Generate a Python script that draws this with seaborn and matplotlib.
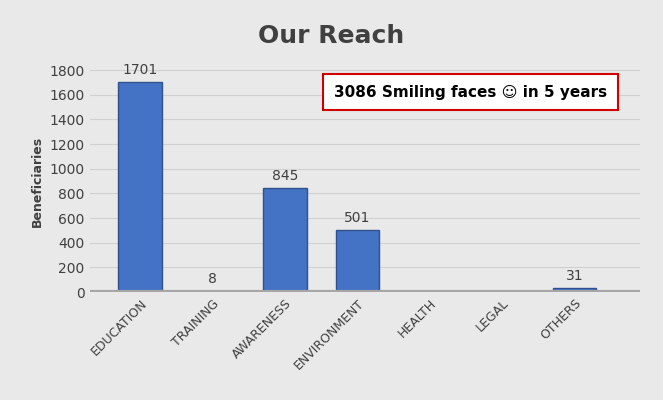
import matplotlib
matplotlib.use("Agg")
import matplotlib.pyplot as plt
import seaborn as sns
import pandas as pd

categories = ["EDUCATION", "TRAINING", "AWARENESS", "ENVIRONMENT", "HEALTH", "LEGAL", "OTHERS"]
values = [1701, 8, 845, 501, 0, 0, 31]
labels = ["1701", "8", "845", "501", "", "", "31"]

sns.set_style("white")
plt.rcParams['font.family'] = ['DejaVu Sans']
df = pd.DataFrame({"cat": categories, "val": values})

fig = plt.figure(figsize=(6.63, 4.0), dpi=100, facecolor="#e9e9e9")
ax = fig.add_axes([0.135, 0.27, 0.83, 0.555], facecolor="#e9e9e9")
sns.barplot(data=df, x="cat", y="val", color="#4472C4", width=0.6,
            edgecolor="#2F528F", linewidth=1, ax=ax, saturation=1)
for i, (v, l) in enumerate(zip(values, labels)):
    if l:
        ax.text(i, v + 40, l, ha="center", va="bottom", fontsize=10, color="#404040")
ax.set_xlim(-0.7, 6.9)
ax.set_ylim(0, 1800)
ax.set_yticks(range(0, 1801, 200))
ax.yaxis.grid(True, color="#d0d0d0", linewidth=0.8)
ax.set_axisbelow(True)
for s in ax.spines.values():
    s.set_visible(False)
ax.axhline(0, color="#a6a6a6", linewidth=3)
ax.set_xlabel("")
ax.set_ylabel("Beneficiaries", fontsize=9, fontweight="bold", color="#404040")
ax.tick_params(axis="y", labelsize=10, colors="#404040", length=0)
ax.tick_params(axis="x", labelsize=9, colors="#404040", length=0)
plt.setp(ax.get_xticklabels(), rotation=45, ha="right", rotation_mode="anchor")
fig.text(0.5, 0.91, "Our Reach", ha="center", va="center", fontsize=18,
         fontweight="bold", color="#404040")
fig.text(0.71, 0.77, "3086 Smiling faces \u263A in 5 years", ha="center", va="center",
         fontsize=11, fontweight="bold", color="black",
         bbox=dict(boxstyle="square,pad=0.7", facecolor="white", edgecolor="#d00000", linewidth=1.5))
fig.savefig("out.png", dpi=100, facecolor=fig.get_facecolor())
